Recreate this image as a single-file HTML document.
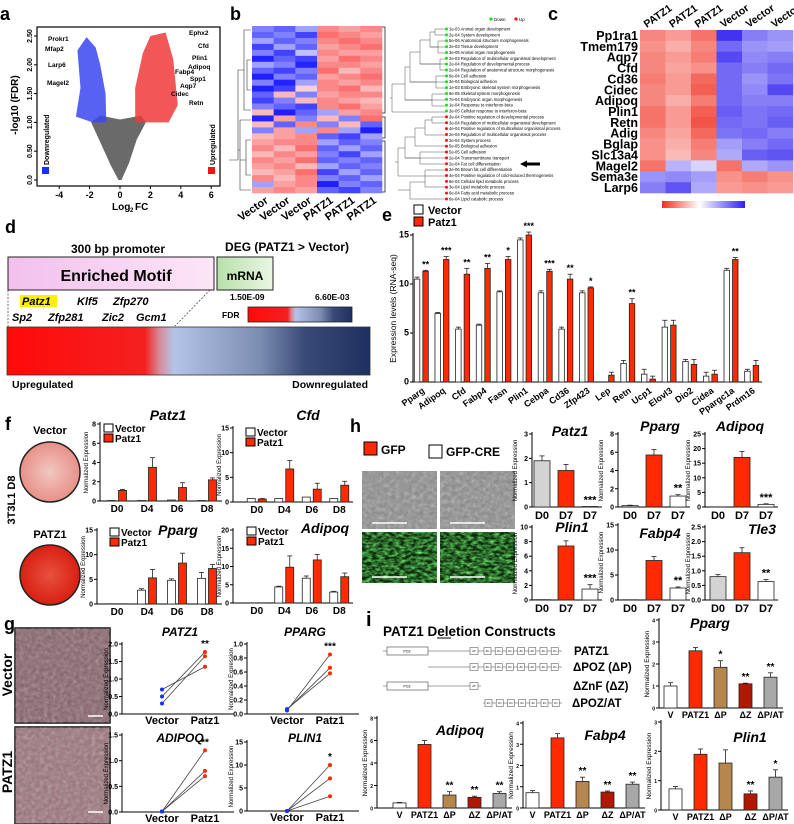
<!DOCTYPE html>
<html><head><meta charset="utf-8">
<style>
html,body{margin:0;padding:0;background:#fff}
svg{display:block;font-family:"Liberation Sans",Arial,sans-serif}
</style></head>
<body>
<svg id="fig" width="794" height="824" viewBox="0 0 794 824" xmlns="http://www.w3.org/2000/svg">
<defs>
<filter id="tex" x="0" y="0" width="100%" height="100%"><feTurbulence type="fractalNoise" baseFrequency="0.25" numOctaves="2" seed="3"/><feColorMatrix type="saturate" values="0"/><feComponentTransfer><feFuncA type="table" tableValues="0 0.9"/></feComponentTransfer></filter>
<filter id="texG" x="0" y="0" width="100%" height="100%"><feTurbulence type="fractalNoise" baseFrequency="0.18 0.35" numOctaves="2" seed="7"/><feColorMatrix type="matrix" values="0 0 0 0 0.2  0 0 0 0 1  0 0 0 0 0.2  1.6 0 0 0 -0.5"/></filter>
<linearGradient id="fdrGrad" x1="0" x2="1"><stop offset="0" stop-color="#ff0a0a"/><stop offset="0.38" stop-color="#f52020"/><stop offset="0.42" stop-color="#d88a9a"/><stop offset="0.46" stop-color="#b4c4e8"/><stop offset="0.7" stop-color="#7a8cb0"/><stop offset="0.82" stop-color="#3a4a78"/><stop offset="1" stop-color="#1e3060"/></linearGradient>
<linearGradient id="pinkGrad" x1="0" x2="1"><stop offset="0" stop-color="#f2c0ec"/><stop offset="1" stop-color="#fde6f8"/></linearGradient>
<linearGradient id="greenGrad" x1="0" x2="1"><stop offset="0" stop-color="#b8e0a8"/><stop offset="1" stop-color="#eaf6e4"/></linearGradient>
<linearGradient id="cScale" x1="0" x2="1"><stop offset="0" stop-color="#f03020"/><stop offset="0.45" stop-color="#fff"/><stop offset="1" stop-color="#3020f0"/></linearGradient>
<radialGradient id="dishV"><stop offset="0" stop-color="#f0c8c0"/><stop offset="1" stop-color="#e89088"/></radialGradient>
<radialGradient id="dishP"><stop offset="0" stop-color="#e85040"/><stop offset="1" stop-color="#d82010"/></radialGradient>
</defs>
<g id="root"></g>
</svg>
<script>
// ---------- DATA ----------
const volcanoGrey=[[-0.1,0],[0.1,0],[0.6,0.3],[1.1,0.7],[1.7,1.0],[1.4,1.12],[0,1.05],[-1.3,1.12],[-1.9,1.0],[-1.2,0.6],[-0.6,0.25]];
const volcanoDown=[[-0.9,1.0],[-0.95,1.5],[-1.3,2.0],[-1.6,2.3],[-2.2,2.48],[-2.8,2.25],[-2.6,1.6],[-2.9,1.1],[-1.8,1.0]];
const volcanoUp=[[1.0,1.0],[1.0,1.6],[1.5,2.2],[2.0,2.5],[3.0,2.56],[3.5,2.1],[3.8,1.3],[3.2,1.0]];
const volcanoXTicks=[-4,-2,0,2,4,6];
const volcanoYTicks=[0,0.5,1,1.5,2,2.5];
const volcanoYLabels=["0.0","0.50","1.00","1.50","2.00","2.50"];
const bHeat=[
[-0.4,-0.5,-0.3,0.5,0.4,0.5],[-0.5,-0.4,-0.6,0.6,0.5,0.4],[-0.3,-0.5,-0.4,0.5,0.6,0.5],[-0.6,-0.3,-0.5,0.4,0.5,0.6],
[-0.4,-0.6,-0.2,0.5,0.4,0.4],[-0.7,-0.5,-0.6,0.4,0.6,0.5],[-0.3,-0.4,-0.7,0.5,0.5,0.4],[-0.5,-0.6,-0.4,0.6,0.3,0.5],
[-0.8,-0.4,-0.5,0.4,0.5,0.6],[-0.4,-0.7,-0.3,0.5,0.4,0.5],[-0.9,-0.6,0.2,0.5,0.6,0.3],[-0.5,0.3,-0.4,0.4,0.5,0.5],
[-0.6,-0.4,0.3,0.5,0.4,0.3],[-0.4,-0.5,-0.6,0.5,0.6,0.4],[0.3,-0.8,-0.5,-0.3,0.4,0.5],[-0.7,0.4,-0.4,0.3,-0.4,0.6],
[0.3,-0.5,0.5,-0.4,0.3,-0.5],[-0.4,0.4,-0.3,0.5,-0.3,-0.8],[0.3,0.4,0.5,-0.5,-0.6,-0.3],[0.4,0.5,0.5,-0.3,-0.5,-0.4],
[0.5,0.3,0.6,-0.5,-0.3,-0.5],[0.3,0.5,0.4,-0.4,-0.6,-0.3],[0.5,0.4,0.6,-0.5,-0.4,-0.5],[0.4,0.5,0.3,-0.3,-0.5,-0.4],
[0.3,0.4,0.6,-0.6,-0.3,-0.5],[0.5,0.3,0.5,-0.4,-0.5,-0.3],[-0.3,0.4,0.5,-0.8,-0.4,-0.5],[0.4,0.5,0.4,-0.5,-0.6,-0.4]];
const bCols=["Vector","Vector","Vector","PATZ1","PATZ1","PATZ1"];
const goTerms=["1e-03 Animal organ development","2e-04 System development","5e-06 Anatomical structure morphogenesis","2e-03 Tissue development","3e-05 Animal organ morphogenesis","2e-03 Regulation of multicellular organismal development","2e-04 Regulation of developmental process","2e-04 Regulation of anatomical structure morphogenesis","9e-04 Cell adhesion","3e-04 Biological adhesion","1e-03 Embryonic skeletal system morphogenesis","9e-05 Skeletal system morphogenesis","7e-04 Embryonic organ morphogenesis","1e-04 Response to interferon-beta","3e-05 Cellular response to interferon-beta","3e-04 Positive regulation of developmental process","3e-04 Regulation of multicellular organismal development","4e-04 Positive regulation of multicellular organismal process","2e-04 Regulation of multicellular organismal process","2e-04 System process","5e-05 Biological adhesion","5e-05 Cell adhesion","2e-04 Transmembrane transport","2e-04 Fat cell differentiation","2e-06 Brown fat cell differentiation","4e-04 Positive regulation of cold-induced thermogenesis","6e-04 Cellular lipid metabolic process","3e-04 Lipid metabolic process","6e-04 Fatty acid metabolic process","6e-04 Lipid catabolic process"];
const goDir=["D","D","D","D","D","D","D","D","D","D","D","D","D","D","D","U","U","U","U","U","U","U","U","U","U","U","U","U","U","U"];
const cGenes=["Pp1ra1","Tmem179","Aqp7","Cfd","Cd36","Cidec","Adipoq","Plin1","Retn","Adig","Bglap","Slc13a4","Magel2","Sema3e","Larp6"];
const cCols=["PATZ1","PATZ1","PATZ1","Vector","Vector","Vector"];
const cHeat=[
[0.6,0.5,0.7,-0.95,-0.6,-0.5],[0.55,0.4,0.6,-0.7,-0.5,-0.45],[0.6,0.5,0.65,-0.85,-0.55,-0.6],[0.6,0.45,0.55,-0.7,-0.6,-0.7],
[0.65,0.5,0.75,-0.7,-0.5,-0.65],[0.6,0.5,0.8,-0.7,-0.55,-0.85],[0.6,0.4,0.65,-0.7,-0.6,-0.6],[0.7,0.5,0.8,-0.75,-0.65,-0.7],
[0.7,0.5,0.85,-0.7,-0.65,-0.75],[0.6,0.45,0.75,-0.65,-0.7,-0.6],[0.55,0.4,0.65,-0.45,-0.6,-0.7],[0.55,0.35,0.6,-0.4,-0.75,-0.8],
[0.7,-0.35,-0.2,0.7,-0.4,-0.5],[-0.5,-0.55,-0.45,0.55,0.65,0.55],[-0.6,-0.8,-0.4,0.5,0.55,0.5]];
const motifsRow1=["Patz1","Klf5","Zfp270"];
const motifsRow2=["Sp2","Zfp281","Zic2","Gcm1"];
const eGenes=["Pparg","Adipoq","Cfd","Fabp4","Fasn","Plin1","Cebpa","Cd36","Zfp423","Lep","Retn","Ucp1","Elovl3","Dio2","Cidea","Ppargc1a","Prdm16"];
const eVector=[10.5,7.0,5.4,5.8,9.2,14.5,9.1,5.4,9.1,0,1.9,0.8,5.6,2.1,0.6,11.4,1.1];
const ePatz1=[11.3,12.5,11.0,11.6,12.5,15.0,11.3,10.5,9.6,0.7,8.0,0.3,5.8,1.8,0.8,12.5,1.7];
const eVecErr=[0.2,0.1,0.2,0.1,0.1,0.2,0.2,0.2,0.2,0,0.3,0.5,0.7,0.2,0.4,0.2,0.2];
const ePatErr=[0.1,0.3,0.6,0.5,0.3,0.3,0.2,0.5,0.1,0.3,0.5,0.3,0.5,0.5,0.4,0.2,0.5];
const eStars=["**","***","**","**","*","***","***","**","*","","**","","","","","**",""];
const eTicks=[0,5,10,15];
const fDays=["D0","D4","D6","D8"];
const fPatz1Vec=[0.05,0.05,0.1,0.05], fPatz1Pat=[1.1,3.5,1.4,2.2], fPatz1PatErr=[0.1,1.0,0.5,0.2];
const fCfdVec=[0.7,0.7,1.0,0.7], fCfdPat=[0.6,6.7,2.6,3.4], fCfdPatErr=[0.1,1.7,1.2,0.8];
const fPpargVec=[0.05,2.8,4.8,5.2], fPpargVecErr=[0,0.3,0.3,1.2], fPpargPat=[0.05,5.3,8.3,7.2], fPpargPatErr=[0,1.7,2.0,0.8];
const fAdipoqVec=[0.05,4.4,6.8,3.0], fAdipoqVecErr=[0,0.2,0.6,0.2], fAdipoqPat=[0.05,9.8,11.8,7.2], fAdipoqPatErr=[0,3.1,1.5,1.0];
const hCats=["D0","D7","D7"];
const hPatz1=[1.9,1.5,0.02], hPatz1Err=[0.2,0.25,0];
const hPparg=[0.15,5.7,1.2], hPpargErr=[0.05,0.6,0.15];
const hAdipoq=[0.05,17,0.9], hAdipoqErr=[0,2,0.2];
const hPlin1=[0.05,7.4,1.5], hPlin1Err=[0,0.7,0.6];
const hFabp4=[0.05,7.9,2.4], hFabp4Err=[0,0.8,0.2];
const hTle3=[0.8,1.62,0.63], hTle3Err=[0.07,0.17,0.07];
const gPatz1Vec=[0.7,0.5,0.3], gPatz1Pat=[1.35,1.77,1.65];
const gPpargVec=[0.05,0.06,0.07], gPpargPat=[0.85,0.66,0.58];
const gAdipoqVec=[0.01,0.01,0.01], gAdipoqPat=[1.2,0.8,0.7];
const gPlin1Vec=[0,0,0], gPlin1Pat=[10,7.1,3.2];
const gCats=["Vector","Patz1"];
const iCats=["V","PATZ1","ΔP","ΔZ","ΔP/AT"];
const iPparg=[1.0,2.6,1.85,1.1,1.4], iPpargErr=[0.15,0.15,0.3,0.03,0.2];
const iAdipoq=[0.45,5.65,1.15,0.95,1.3], iAdipoqErr=[0.05,0.35,0.3,0.1,0.15];
const iFabp4=[0.72,3.3,1.25,0.75,1.12], iFabp4Err=[0.1,0.2,0.2,0.05,0.1];
const iPlin1=[0.72,1.9,1.6,0.55,1.12], iPlin1Err=[0.08,0.18,0.45,0.1,0.25];

// ---------- HELPERS ----------
const NS="http://www.w3.org/2000/svg";
const root=document.getElementById("root");
function mk(tag,attrs,parent,txt){const e=document.createElementNS(NS,tag);for(const k in attrs)e.setAttribute(k,attrs[k]);if(txt!==undefined)e.textContent=txt;(parent||root).appendChild(e);return e;}
function grp(name,parent){const g=mk("g",{},parent);


return g;}
function txt(g,x,y,s,size,opts){opts=opts||{};const t=mk("text",{x:x,y:y,"font-size":size,"text-anchor":opts.anchor||"start",fill:opts.fill||"#000","font-weight":opts.bold===false?"normal":"bold","font-style":opts.italic?"italic":"normal"},g,s);if(opts.rot!==undefined)t.setAttribute("transform","rotate("+opts.rot+" "+x+" "+y+")");


return t;}
function line(g,x1,y1,x2,y2,c,w,dash){const l=mk("line",{x1:x1,y1:y1,x2:x2,y2:y2,stroke:c||"#000","stroke-width":w||1},g);if(dash)l.setAttribute("stroke-dasharray",dash);return l;}
const RED="#ff2a00";

function barChart(o){
  const g=grp(o.name);
  const sy=v=>o.y0-v/o.max*(o.y0-o.yTop);
  const n=o.cats.length, step=(o.end-o.start)/n;
  const cx=i=>o.start+(i+0.5)*step;
  line(g,o.ax,o.y0,o.ax,o.yTop-2,"#000",1);
  line(g,o.ax,o.y0,o.end,o.y0,"#000",1);
  o.ticks.forEach((t,i)=>{const y=sy(t);line(g,o.ax-3,y,o.ax,y);txt(g,o.ax-4,y+2.5,o.tickLabels?o.tickLabels[i]:String(t),o.tickSize||7,{anchor:"end",name:"y-tick"});});
  const ns=o.series.length;
  o.series.forEach((s,si)=>{
    s.vals.forEach((v,i)=>{
      const bw=o.barW, off=ns===1?0:(si-(ns-1)/2)*o.gap;
      const x=cx(i)+off-bw/2, y=sy(v);
      const fill=Array.isArray(s.fill)?s.fill[i]:s.fill;
      const r=mk("rect",{x:x,y:y,width:bw,height:Math.max(0,o.y0-y),fill:fill,stroke:"#222","stroke-width":0.8},g);
      
      
      const e=s.err?s.err[i]:0;
      if(e>0){line(g,x+bw/2,y,x+bw/2,sy(v+e),"#222",0.8);line(g,x+bw/2-2.5,sy(v+e),x+bw/2+2.5,sy(v+e),"#222",0.8);}
      if(s.stars&&s.stars[i])txt(g,x+bw/2,sy(v+e)-3,s.stars[i],o.starSize||10,{anchor:"middle",name:"significance"});
    });
  });
  o.cats.forEach((c,i)=>{
    if(o.labelRot!==undefined)txt(g,cx(i)+4,o.y0+10,c,o.labelSize,{anchor:"end",rot:o.labelRot,name:"x-tick"});
    else txt(g,cx(i),o.y0+o.labelSize+1,c,o.labelSize,{anchor:"middle",name:"x-tick"});
  });
  if(o.title)txt(g,o.titleX,o.titleY,o.title,o.titleSize||14,{anchor:"middle",italic:true,name:"chart-title"});
  if(o.ytitle)txt(g,o.ax-o.ytOff,(o.y0+o.yTop)/2,o.ytitle,o.ytSize||6,{anchor:"middle",rot:-90,bold:false,name:"y-axis-title"});
  return g;
}
function lineChart(o){
  const g=grp(o.name);
  const sy=v=>o.y0-v/o.max*(o.y0-o.yTop);
  const xs=[o.ax+40,o.ax+83];
  line(g,o.ax,o.y0,o.ax,o.yTop-2);line(g,o.ax,o.y0,o.ax+112,o.y0);
  o.ticks.forEach((t,i)=>{const y=sy(t);line(g,o.ax-3,y,o.ax,y);txt(g,o.ax-4,y+2.5,o.tickLabels[i],7,{anchor:"end",name:"y-tick"});});
  o.vec.forEach((v,i)=>{
    line(g,xs[0],sy(v),xs[1],sy(o.pat[i]),"#444",0.8);
  });
  o.vec.forEach((v,i)=>{
    const a=mk("circle",{cx:xs[0],cy:sy(v),r:2,fill:"#1530ff"},g);
    
    
    const b=mk("circle",{cx:xs[1],cy:sy(o.pat[i]),r:2,fill:RED},g);
    
    
  });
  gCats.forEach((c,i)=>txt(g,xs[i],o.y0+10,c,11,{anchor:"middle",name:"x-tick"}));
  txt(g,o.ax+58,o.titleY,o.title,12,{anchor:"middle",italic:true,name:"chart-title"});
  txt(g,xs[1],sy(Math.max(...o.pat))-5,o.star,10,{anchor:"middle",name:"significance"});
  txt(g,o.ax-14,(o.y0+o.yTop)/2,"Normalized Expression",6,{anchor:"middle",rot:-90,bold:false,name:"y-axis-title"});
}

// ---------- PANEL A ----------
(function(){
  const g=grp("panel-a-volcano");
  txt(g,0,20,"a",18,{name:"panel-label"});
  const X=v=>120+v*15.2, Y=v=>180-v*57.6;
  mk("rect",{x:37,y:27,width:183,height:159,fill:"#fff",stroke:"#000","stroke-width":1.2},g);
  const poly=(arr,fill,nm,op)=>{const p=mk("polygon",{points:arr.map(p=>X(p[0])+","+Y(p[1])).join(" "),fill:fill,opacity:op},g);
    
    };
  poly(volcanoGrey,"#5a5a5a","nonsignificant-genes",0.9);
  poly(volcanoDown,"#3a45f0","downregulated-genes",0.85);
  poly(volcanoUp,"#f03a3a","upregulated-genes",0.85);
  volcanoXTicks.forEach(t=>{line(g,X(t),186,X(t),189);txt(g,X(t),198,String(t),9,{anchor:"middle",name:"x-tick"});});
  volcanoYTicks.forEach((t,i)=>{line(g,34,Y(t),37,Y(t));txt(g,32,Y(t),volcanoYLabels[i],7,{anchor:"middle",rot:-90,name:"y-tick"});});
  txt(g,112,210,"Log",10,{name:"x-axis-title"});txt(g,130,212,"2",6);txt(g,135,210,"FC",10);
  txt(g,18,105,"-log10 (FDR)",10,{anchor:"middle",rot:-90,name:"y-axis-title"});
  [["Prokr1",48,41],["Mfap2",45,51],["Larp6",48,67],["Magel2",47,85],["Ephx2",189,35],["Cfd",198,48],["Plin1",192,60],["Adipoq",188,69],["Fabp4",175,74],["Spp1",190,81],["Aqp7",180,88],["Cidec",171,96],["Retn",189,105]].forEach(a=>txt(g,a[1],a[2],a[0],6.5,{name:"gene-label"}));
  mk("rect",{x:42,y:167,width:7,height:7,fill:"#1530ff"},g);
  txt(g,49,165,"Downregulated",7,{rot:-90,name:"legend-down"});
  mk("rect",{x:208,y:167,width:7,height:7,fill:"#ff1010"},g);
  txt(g,215,165,"Upregulated",7,{rot:-90,name:"legend-up"});
})();

// ---------- PANEL B ----------
(function(){
  const g=grp("panel-b-heatmap");
  txt(g,230,20,"b",18,{name:"panel-label"});
  const x0=252,w=130,y0=26,h=167,rh=h/bHeat.length,cw=w/6;
  const col=v=>{v=Math.max(-1,Math.min(1,v*1.4));return v>=0?`rgb(250,${Math.round(255-v*170)},${Math.round(255-v*170)})`:`rgb(${Math.round(255+v*225)},${Math.round(255+v*225)},255)`;};
  bHeat.forEach((row,r)=>row.forEach((v,c)=>{const e=mk("rect",{x:x0+c*cw,y:y0+r*rh,width:cw+0.3,height:rh+0.3,fill:col(v)},g);
    
    }));
  mk("path",{d:"M251 30H244V110H251M244 70H238V160H229M251 120H240V190H251M240 150H238M251 140H246V175H251M246 160H240M251 60H247V90H251",fill:"none",stroke:"#333","stroke-width":0.6},g);
  mk("path",{d:"M382 27H385V113H382M382 117H385V138H382M382 141H385V192H382",fill:"none",stroke:"#222","stroke-width":0.8},g);
  bCols.forEach((c,i)=>txt(g,x0+(i+0.5)*cw+6,202,c,11,{anchor:"end",rot:-35,name:"column-label"}));
  mk("path",{d:"M446 29H435V35H446M435 32H430V47H446M446 41H438V53H446M438 47H430M430 40H420V64H446M446 59H440V70H446M440 64H420M420 52H410V82H446M446 76H436V88H446M436 82H410M410 67H405V100H446M446 94H432V106H446M432 100H405M405 84H392V112H446M392 98H390M446 117H432V123H446M432 120H425V135H446M425 128H415V146H446M415 137H405V158H446M446 152H420V164H446M420 158H405M405 148H398V176H446M446 170H425V187H446M425 182H410V199H446M410 190H398M398 162H395",fill:"none",stroke:"#555","stroke-width":0.5},g);
  goTerms.forEach((t,i)=>{const y=29+i*5.86;
    const d=mk("circle",{cx:446.5,cy:y,r:1.5,fill:goDir[i]==="D"?"#18e018":"#ff1010"},g);
    
    
    txt(g,449,y+1.5,t,4.2,{bold:false,name:"go-term"});});
  mk("circle",{cx:491,cy:19,r:1.6,fill:"#18e018"},g);txt(g,494,21,"Down",4.5,{bold:false,name:"legend-down"});
  mk("circle",{cx:516,cy:19,r:1.6,fill:"#ff1010"},g);txt(g,519,21,"Up",4.5,{bold:false,name:"legend-up"});
  mk("polygon",{points:"520,164 527,160.5 527,162.5 540,162.5 540,165.5 527,165.5 527,167.5",fill:"#000"},g);
})();

// ---------- PANEL C ----------
(function(){
  const g=grp("panel-c-heatmap");
  txt(g,548,20,"c",18,{name:"panel-label"});
  const x0=640,w=153,y0=30,h=163,rh=h/cHeat.length,cw=w/6;
  const col=v=>v>=0?`rgb(${Math.round(255-v*15)},${Math.round(255-v*200)},${Math.round(255-v*215)})`:`rgb(${Math.round(255+v*200)},${Math.round(255+v*215)},${Math.round(255+v*15)})`;
  cHeat.forEach((row,r)=>row.forEach((v,c)=>{const e=mk("rect",{x:x0+c*cw,y:y0+r*rh,width:cw+0.3,height:rh+0.3,fill:col(v)},g);
    
    }));
  cGenes.forEach((s,i)=>txt(g,638,y0+i*rh+rh/2+4.5,s,12.5,{anchor:"end",name:"row-label"}));
  cCols.forEach((s,i)=>txt(g,x0+(i+0.5)*cw-6,28,s,10.5,{rot:-35,name:"column-label"}));
  const sc=mk("rect",{x:662,y:201,width:83,height:7,fill:"url(#cScale)"},g);
  
  
})();

// ---------- PANEL D ----------
(function(){
  const g=grp("panel-d-motif");
  txt(g,5,233,"d",18,{name:"panel-label"});
  txt(g,118,253,"300 bp promoter",12,{anchor:"middle"});
  txt(g,287,251,"DEG (PATZ1 > Vector)",12,{anchor:"middle"});
  mk("rect",{x:8,y:257,width:206,height:33,fill:"url(#pinkGrad)",stroke:"#222","stroke-width":1},g);
  txt(g,116,281,"Enriched Motif",16,{anchor:"middle"});
  mk("rect",{x:217,y:257,width:56,height:33,fill:"url(#greenGrad)",stroke:"#222","stroke-width":1},g);
  txt(g,245,280,"mRNA",12,{anchor:"middle"});
  mk("rect",{x:20,y:295,width:37,height:12,fill:"#fff000"},g);
  const r1x=[22,77,113], r2x=[12,48,102,136];
  motifsRow1.forEach((m,i)=>txt(g,r1x[i],305,m,11,{italic:true,name:"motif"}));
  motifsRow2.forEach((m,i)=>txt(g,r2x[i],321,m,11,{italic:true,name:"motif"}));
  line(g,8,290,8,327,"#333",0.7,"2,1.5");line(g,210,290,175,326,"#333",0.7,"2,1.5");
  txt(g,230,300,"1.50E-09",8.5);txt(g,315,300,"6.60E-03",8.5);txt(g,222,318,"FDR",8.5);
  mk("rect",{x:248,y:307,width:104,height:15,fill:"url(#fdrGrad)",stroke:"#222","stroke-width":0.8},g);
  const bb=mk("rect",{x:7,y:327,width:363,height:48,fill:"url(#fdrGrad)",stroke:"#333","stroke-width":0.8},g);
  
  
  txt(g,12,388,"Upregulated",10.5);txt(g,368,388,"Downregulated",10.5,{anchor:"end"});
})();

// ---------- PANEL E ----------
(function(){
  const g=grp("panel-e-legend");
  txt(g,382,221,"e",18,{name:"panel-label"});
  mk("rect",{x:414,y:205,width:9,height:9,fill:"#fff",stroke:"#000"},g);txt(g,428,214,"Vector",11);
  mk("rect",{x:414,y:217,width:9,height:9,fill:RED,stroke:"#000"},g);txt(g,428,226,"Patz1",11);
  barChart({name:"panel-e-bars",cats:eGenes,ax:413,start:411,end:762,y0:382,yTop:235,max:15,ticks:eTicks,barW:5.5,gap:8.5,labelSize:9,labelRot:-35,tickSize:9,ytitle:"Expression levels (RNA-seq)",ytOff:17,ytSize:8.5,starSize:9,
    series:[{key:"vector",vals:eVector,err:eVecErr,fill:"#fff"},{key:"patz1",vals:ePatz1,err:ePatErr,fill:RED,stars:eStars}]});
})();

// ---------- PANEL F ----------
(function(){
  const g=grp("panel-f-images");
  txt(g,5,430,"f",18,{name:"panel-label"});
  txt(g,50,434,"Vector",11,{anchor:"middle"});
  mk("circle",{cx:50,cy:472,r:30,fill:"url(#dishV)",stroke:"#222","stroke-width":1.5},g);
  txt(g,15,500,"3T3L1 D8",11,{anchor:"middle",rot:-90});
  txt(g,50,538,"PATZ1",11,{anchor:"middle"});
  mk("circle",{cx:50,cy:575,r:30,fill:"url(#dishP)",stroke:"#222","stroke-width":1.5},g);
  const leg=(x,y)=>{mk("rect",{x:x,y:y,width:9,height:8,fill:"#fff",stroke:"#000"},g);txt(g,x+11,y+8,"Vector",10);mk("rect",{x:x,y:y+10,width:9,height:8,fill:RED,stroke:"#000"},g);txt(g,x+11,y+18,"Patz1",10);};
  leg(104,424);leg(246,428);leg(110,528);leg(247,527);
  const common={cats:fDays,barW:8,gap:11,labelSize:10,tickSize:7,ytitle:"Normalized Expression",ytOff:12,ytSize:6};
  barChart(Object.assign({},common,{name:"f-patz1-chart",ax:100,start:102,end:222,y0:501,yTop:424,max:8,ticks:[0,2,4,6,8],title:"Patz1",titleX:168,titleY:420,series:[{key:"vector",vals:fPatz1Vec,fill:"#fff"},{key:"patz1",vals:fPatz1Pat,err:fPatz1PatErr,fill:RED}]}));
  barChart(Object.assign({},common,{name:"f-cfd-chart",ax:233,start:243,end:353,y0:502,yTop:428,max:15,ticks:[0,5,10,15],title:"Cfd",titleX:308,titleY:420,series:[{key:"vector",vals:fCfdVec,fill:"#fff"},{key:"patz1",vals:fCfdPat,err:fCfdPatErr,fill:RED}]}));
  barChart(Object.assign({},common,{name:"f-pparg-chart",ax:97,start:102,end:222,y0:604,yTop:530,max:15,ticks:[0,5,10,15],title:"Pparg",titleX:178,titleY:535,series:[{key:"vector",vals:fPpargVec,err:fPpargVecErr,fill:"#fff"},{key:"patz1",vals:fPpargPat,err:fPpargPatErr,fill:RED}]}));
  barChart(Object.assign({},common,{name:"f-adipoq-chart",ax:233,start:243,end:353,y0:603,yTop:530,max:20,ticks:[0,5,10,15,20],title:"Adipoq",titleX:325,titleY:533,series:[{key:"vector",vals:fAdipoqVec,err:fAdipoqVecErr,fill:"#fff"},{key:"patz1",vals:fAdipoqPat,err:fAdipoqPatErr,fill:RED}]}));
})();

// ---------- PANEL G ----------
(function(){
  const g=grp("panel-g");
  txt(g,4,630,"g",18,{name:"panel-label"});
  mk("rect",{x:15,y:628,width:95,height:95,fill:"#86606a",stroke:"#111","stroke-width":1.5},g);
  mk("rect",{x:15,y:628,width:95,height:95,fill:"#f0d0c0",filter:"url(#tex)",opacity:0.55},g);
  mk("rect",{x:15,y:727,width:95,height:97,fill:"#9a7078",stroke:"#111","stroke-width":1.5},g);
  mk("rect",{x:15,y:727,width:95,height:97,fill:"#f8d8b8",filter:"url(#tex)",opacity:0.6},g);
  line(g,88,716,103,716,"#fff",1.5);line(g,88,812,103,812,"#fff",1.5);
  txt(g,12,675,"Vector",14,{anchor:"middle",rot:-90});
  txt(g,12,772,"PATZ1",14,{anchor:"middle",rot:-90});
  lineChart({name:"g-patz1-chart",ax:122,y0:714,yTop:644,max:2,ticks:[0,0.5,1,1.5,2],tickLabels:["0.0","0.5","1.0","1.5","2.0"],vec:gPatz1Vec,pat:gPatz1Pat,title:"PATZ1",titleY:636,star:"**"});
  lineChart({name:"g-pparg-chart",ax:247,y0:714,yTop:644,max:1,ticks:[0,0.2,0.4,0.6,0.8,1],tickLabels:["0.0","0.2","0.4","0.6","0.8","1.0"],vec:gPpargVec,pat:gPpargPat,title:"PPARG",titleY:636,star:"***"});
  lineChart({name:"g-adipoq-chart",ax:122,y0:812,yTop:735,max:1.5,ticks:[0,0.5,1,1.5],tickLabels:["0.0","0.5","1.0","1.5"],vec:gAdipoqVec,pat:gAdipoqPat,title:"ADIPOQ",titleY:742,star:"**"});
  lineChart({name:"g-plin1-chart",ax:247,y0:811,yTop:742,max:15,ticks:[0,5,10,15],tickLabels:["0","5","10","15"],vec:gPlin1Vec,pat:gPlin1Pat,title:"PLIN1",titleY:742,star:"*"});
})();

// ---------- PANEL H ----------
(function(){
  const g=grp("panel-h");
  txt(g,350,432,"h",18,{name:"panel-label"});
  mk("rect",{x:364,y:442,width:13,height:13,fill:RED,stroke:"#000"},g);txt(g,381,454,"GFP",12);
  mk("rect",{x:429,y:445,width:13,height:13,fill:"#fff",stroke:"#000"},g);txt(g,446,456,"GFP-CRE",12);
  [[362,471],[440,471]].forEach(p=>{mk("rect",{x:p[0],y:p[1],width:75,height:58,fill:"#8a8a8a"},g);mk("rect",{x:p[0],y:p[1],width:75,height:58,fill:"#eee",filter:"url(#tex)",opacity:0.7},g);line(g,p[0]+10,p[1]+52,p[0]+45,p[1]+52,"#fff",1.5);});
  [[362,532],[440,532]].forEach(p=>{mk("rect",{x:p[0],y:p[1],width:75,height:51,fill:"#0a2a0a"},g);mk("rect",{x:p[0],y:p[1],width:75,height:51,filter:"url(#texG)"},g);line(g,p[0]+10,p[1]+45,p[0]+45,p[1]+45,"#fff",1.5);});
  const cols=["#d3d3d3",RED,"#fff"];
  const c={cats:hCats,barW:16,gap:0,labelSize:11,tickSize:7,ytitle:"Normalized Expression",ytOff:15,ytSize:6,starSize:11};
  barChart(Object.assign({},c,{name:"h-patz1-chart",ax:532,start:530,end:602,y0:507,yTop:434,max:3,ticks:[0,1,2,3],title:"Patz1",titleX:570,titleY:436,series:[{vals:hPatz1,err:hPatz1Err,fill:cols,stars:["","","***"]}]}));
  barChart(Object.assign({},c,{name:"h-pparg-chart",ax:618,start:618,end:690,y0:507,yTop:434,max:8,ticks:[0,2,4,6,8],title:"Pparg",titleX:660,titleY:431,series:[{vals:hPparg,err:hPpargErr,fill:cols,stars:["","","**"]}]}));
  barChart(Object.assign({},c,{name:"h-adipoq-chart",ax:705,start:706,end:778,y0:507,yTop:434,max:25,ticks:[0,5,10,15,20,25],title:"Adipoq",titleX:740,titleY:431,series:[{vals:hAdipoq,err:hAdipoqErr,fill:cols,stars:["","","***"]}]}));
  barChart(Object.assign({},c,{name:"h-plin1-chart",ax:532,start:530,end:602,y0:600,yTop:527,max:10,ticks:[0,2,4,6,8,10],title:"Plin1",titleX:572,titleY:532,series:[{vals:hPlin1,err:hPlin1Err,fill:cols,stars:["","","***"]}]}));
  barChart(Object.assign({},c,{name:"h-fabp4-chart",ax:618,start:618,end:690,y0:600,yTop:525,max:15,ticks:[0,5,10,15],title:"Fabp4",titleX:660,titleY:538,series:[{vals:hFabp4,err:hFabp4Err,fill:cols,stars:["","","**"]}]}));
  barChart(Object.assign({},c,{name:"h-tle3-chart",ax:705,start:706,end:778,y0:600,yTop:527,max:2.5,ticks:[0,0.5,1,1.5,2,2.5],tickLabels:["0.0","0.5","1.0","1.5","2.0","2.5"],title:"Tle3",titleX:762,titleY:534,series:[{vals:hTle3,err:hTle3Err,fill:cols,stars:["","","**"]}]}));
})();

// ---------- PANEL I ----------
(function(){
  const g=grp("panel-i");
  txt(g,366,626,"i",20,{name:"panel-label"});
  txt(g,383,636,"PATZ1  Deletion  Constructs",13.5);
  line(g,437,638,451,638,"#000",1);
  const zn=(x,y,n)=>{for(let k=0;k<n;k++){const xx=x+k*11.2;mk("rect",{x:xx,y:y-3.5,width:7,height:7,fill:"#fff",stroke:"#444","stroke-width":0.5},g);txt(g,xx+3.5,y+1.2,"Zn",3,{anchor:"middle",bold:false});}};
  const poz=(y)=>{mk("rect",{x:387,y:y-4,width:41,height:8,fill:"#fff",stroke:"#444","stroke-width":0.6},g);txt(g,407,y+1.5,"POZ",3.5,{anchor:"middle",bold:false});};
  const at=(y)=>{mk("rect",{x:470,y:y-3.5,width:8,height:7,fill:"#fff",stroke:"#444","stroke-width":0.5},g);txt(g,474,y+1.2,"AT",3,{anchor:"middle",bold:false});};
  line(g,383,651,562,651,"#444",0.6);poz(651);at(651);zn(484,651,7);txt(g,574,655,"PATZ1",11.5);
  line(g,428,667,562,667,"#444",0.6);at(667);zn(484,667,7);txt(g,573,671,"ΔPOZ (ΔP)",11.5);
  line(g,383,686,481,686,"#444",0.6);poz(686);at(686);txt(g,573,690,"ΔZnF (ΔZ)",11.5);
  line(g,483,703,562,703,"#444",0.6);zn(485,703,7);txt(g,572,707,"ΔPOZ/AT",11.5);
  const cols=["#fff",RED,"#b5874e","#b01800","#a8a8a8"];
  const c={cats:iCats,barW:13,gap:0,labelSize:9,tickSize:5,ytitle:"Normalized Expression",ytOff:10,ytSize:6.5,starSize:10};
  barChart(Object.assign({},c,{name:"i-pparg-chart",ax:659,start:658,end:783,y0:708,yTop:620,max:4,ticks:[0,1,2,3,4],title:"Pparg",titleX:710,titleY:628,series:[{vals:iPparg,err:iPpargErr,fill:cols,stars:["","","*","**","**"]}]}));
  barChart(Object.assign({},c,{name:"i-adipoq-chart",ax:377,start:387,end:512,y0:808,yTop:718,max:8,ticks:[0,2,4,6,8],title:"Adipoq",titleX:460,titleY:735,series:[{vals:iAdipoq,err:iAdipoqErr,fill:cols,stars:["","","**","**","**"]}]}));
  barChart(Object.assign({},c,{name:"i-fabp4-chart",ax:523,start:520,end:645,y0:808,yTop:723,max:4,ticks:[0,1,2,3,4],title:"Fabp4",titleX:605,titleY:740,series:[{vals:iFabp4,err:iFabp4Err,fill:cols,stars:["","","**","**","**"]}]}));
  barChart(Object.assign({},c,{name:"i-plin1-chart",ax:661,start:663,end:788,y0:810,yTop:722,max:3,ticks:[0,1,2,3],title:"Plin1",titleX:750,titleY:742,series:[{vals:iPlin1,err:iPlin1Err,fill:cols,stars:["","","","**","*"]}]}));
})();
</script>
</body></html>
